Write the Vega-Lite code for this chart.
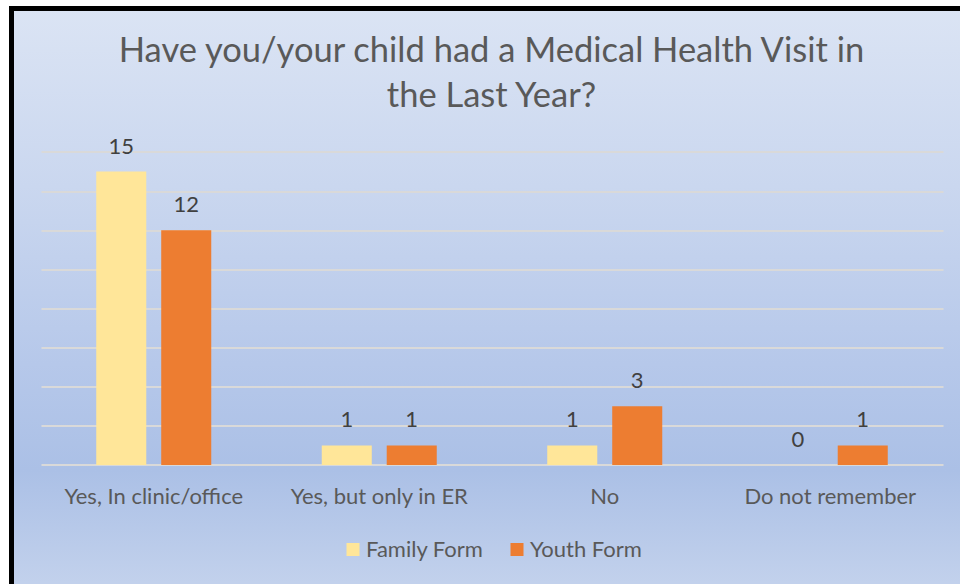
{
  "$schema": "https://vega.github.io/schema/vega-lite/v6.json",
  "width": 960,
  "height": 592,
  "autosize": {"type": "none"},
  "padding": {"left": 11.5, "top": 8.5, "right": 0, "bottom": 0},
  "background": "#ffffff",
  "view": {
    "fill": {
      "gradient": "linear", "x1": 0, "y1": 0, "x2": 0, "y2": 1,
      "stops": [
        {"offset": 0, "color": "#dbe4f4"},
        {"offset": 0.3, "color": "#cad7ef"},
        {"offset": 0.6, "color": "#b6c8ea"},
        {"offset": 0.78, "color": "#abc0e6"},
        {"offset": 0.97, "color": "#c2d1ec"},
        {"offset": 1, "color": "#c4d3ed"}
      ]
    },
    "stroke": "#000000",
    "strokeWidth": 5
  },
  "title": {
    "text": ["Have you/your child had a Medical Health Visit in", "the Last Year?"],
    "font": "Lato",
    "fontSize": 34.5,
    "fontWeight": "normal",
    "color": "#595959",
    "anchor": "middle",
    "frame": "group",
    "baseline": "alphabetic",
    "offset": -132.5,
    "lineHeight": 45
  },
  "datasets": {
    "bars": [
      {"category": "Yes, In clinic/office", "series": "Family Form", "value": 15},
      {"category": "Yes, In clinic/office", "series": "Youth Form", "value": 12},
      {"category": "Yes, but only in ER", "series": "Family Form", "value": 1},
      {"category": "Yes, but only in ER", "series": "Youth Form", "value": 1},
      {"category": "No", "series": "Family Form", "value": 1},
      {"category": "No", "series": "Youth Form", "value": 3},
      {"category": "Do not remember", "series": "Family Form", "value": 0},
      {"category": "Do not remember", "series": "Youth Form", "value": 1}
    ],
    "cats": [
      {"category": "Yes, In clinic/office"},
      {"category": "Yes, but only in ER"},
      {"category": "No"},
      {"category": "Do not remember"}
    ]
  },
  "encoding": {
    "x": {
      "field": "category",
      "type": "nominal",
      "sort": ["Yes, In clinic/office", "Yes, but only in ER", "No", "Do not remember"],
      "axis": null,
      "scale": {"range": [29.5, 931.5], "paddingInner": 0.49, "paddingOuter": 0.245}
    }
  },
  "layer": [
    {
      "data": {"name": "bars"},
      "mark": {"type": "bar"},
      "encoding": {
        "xOffset": {
          "field": "series",
          "type": "nominal",
          "sort": ["Family Form", "Youth Form"],
          "scale": {"paddingInner": 0.23, "paddingOuter": 0}
        },
        "y": {
          "field": "value",
          "type": "quantitative",
          "scale": {"domain": [-6.927, 23.335], "nice": false, "zero": false},
          "axis": {
            "values": [0, 2, 4, 6, 8, 10, 12, 14, 16],
            "labels": false,
            "ticks": false,
            "domain": false,
            "title": null,
            "grid": true,
            "gridColor": "#d9d9d9",
            "gridWidth": 2
          }
        },
        "y2": {"datum": 0},
        "color": {
          "field": "series",
          "type": "nominal",
          "scale": {"domain": ["Family Form", "Youth Form"], "range": ["#ffe699", "#ed7d31"]},
          "legend": {
            "orient": "none",
            "legendX": 330.5,
            "legendY": 530,
            "direction": "horizontal",
            "title": null,
            "symbolType": "square",
            "symbolSize": 169,
            "symbolStrokeWidth": 0,
            "labelFont": "Lato",
            "labelFontSize": 22,
            "labelColor": "#595959",
            "columnPadding": 22,
            "labelOffset": 2,
            "padding": 0
          }
        }
      }
    },
    {
      "data": {"name": "bars"},
      "mark": {"type": "text", "font": "Lato", "fontSize": 22, "color": "#404040", "baseline": "alphabetic", "dy": -18},
      "encoding": {
        "xOffset": {"field": "series", "type": "nominal", "sort": ["Family Form", "Youth Form"]},
        "y": {"field": "value", "type": "quantitative"},
        "text": {"field": "value", "type": "quantitative"}
      }
    },
    {
      "data": {"name": "cats"},
      "mark": {"type": "text", "font": "Lato", "fontSize": 22, "color": "#595959", "baseline": "alphabetic", "dy": 39},
      "encoding": {
        "y": {"datum": 0, "type": "quantitative"},
        "text": {"field": "category", "type": "nominal"}
      }
    }
  ]
}
